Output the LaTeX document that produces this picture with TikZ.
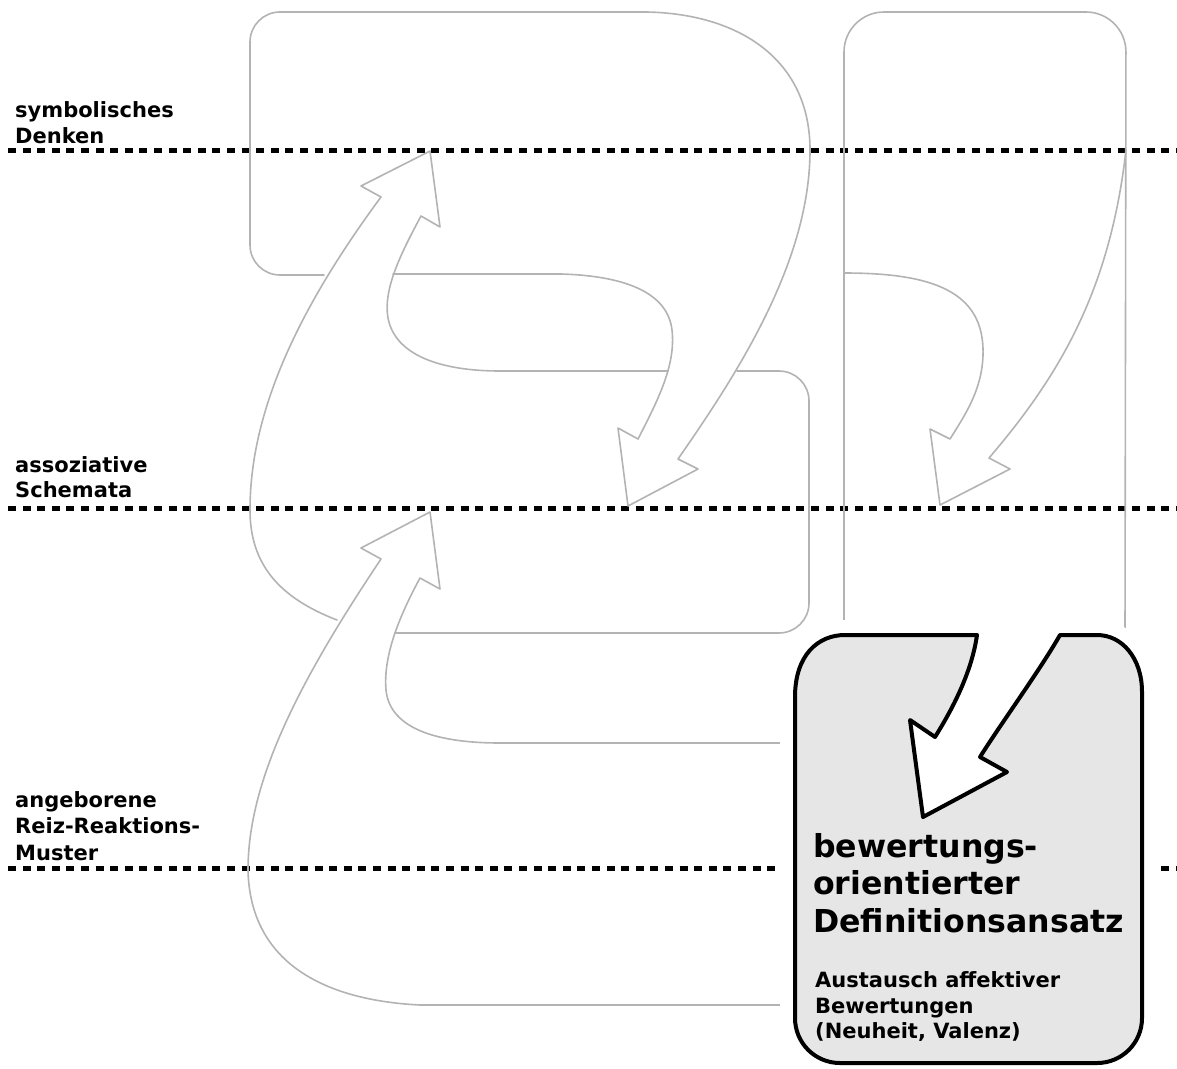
\documentclass[tikz,border=0pt]{standalone}
\usepackage{fontspec}
\setmainfont{DejaVu Sans}
\definecolor{linegray}{RGB}{179,179,179}
\definecolor{boxfill}{RGB}{230,230,230}
\begin{document}
\begin{tikzpicture}[x=1pt,y=-1pt,
  flow/.style={draw=linegray, line width=1.6pt, line join=round, line cap=round},
  level/.style={draw=black, line width=5pt, dash pattern=on 8pt off 6.6pt},
  lbl/.style={anchor=base west, inner sep=0pt, font=\bfseries\fontsize{21}{26}\selectfont},
  big/.style={anchor=base west, inner sep=0pt, font=\bfseries\fontsize{31.6}{37}\selectfont},
  small/.style={anchor=base west, inner sep=0pt, font=\bfseries\fontsize{21}{26}\selectfont}]
\useasboundingbox (0,0) rectangle (1177,1068);

% level separators
\draw[level] (8,150) -- (1177,150);
\draw[level] (8,508) -- (1177,508);
\draw[level] (8,868) -- (1177,868);

% level labels
\node[lbl] (l1a) at (15,117) {symbolisches};
\node[lbl] (l1b) at (15,143) {Denken};
\node[lbl] (l2a) at (15,472) {assoziative};
\node[lbl] (l2b) at (15,497) {Schemata};
\node[lbl] (l3a) at (15,807) {angeborene};
\node[lbl] (l3b) at (15,833) {Reiz-Reaktions-};
\node[lbl] (l3c) at (15,860) {Muster};

% upper block turning into a downward arrow
\draw[flow] (324,275) -- (280,275) .. controls (263.4,275) and (250,261.6) .. (250,245)
  -- (250,42) .. controls (250,25.4) and (263.4,12) .. (280,12) -- (647,12)
  .. controls (740,14) and (810,60) .. (810,150)
  .. controls (810,260) and (740,370) .. (678,459)
  -- (698,469) -- (628,506) -- (618,428) -- (638,439)
  .. controls (658,400) and (676,365) .. (672,330)
  .. controls (668,295) and (630,276) .. (561,274) -- (393,274);

% upward arrow from the middle level
\draw[flow] (337,620) .. controls (280,598) and (250,565) .. (250,510)
  .. controls (250,420) and (290,320) .. (381,197)
  -- (361,186) -- (430,151) -- (440,227) -- (421,216)
  .. controls (400,255) and (383,290) .. (388,318)
  .. controls (395,355) and (440,371) .. (500,371) -- (668,371);

% middle box
\draw[flow] (737,371) -- (779,371) .. controls (795.6,371) and (809,384.4) .. (809,401)
  -- (809,603) .. controls (809,619.6) and (795.6,633) .. (779,633) -- (395,633);

% upward arrow from the lower level
\draw[flow] (780,1005) -- (420,1005) .. controls (320,1000) and (250,960) .. (248,870)
  .. controls (248,780) and (300,680) .. (381,559)
  -- (361,548) -- (430,512) -- (440,589) -- (420,578)
  .. controls (400,615) and (383,655) .. (386,690)
  .. controls (390,730) and (440,743) .. (500,743) -- (780,743);

% right column
\draw[flow, rounded corners=40pt] (844,620) -- (844,12) -- (1126,12) -- (1125,631);
\draw[flow] (844,273) .. controls (930,273) and (985,290) .. (983,355)
  .. controls (982,390) and (965,415) .. (950,439)
  -- (930,429) -- (940,505) -- (1010,469) -- (989,458)
  .. controls (1060,375) and (1110,290) .. (1126,150);

% result box with the arrow cut into it
\draw[black, line width=4pt, fill=boxfill, line join=round,
      preaction={draw=white, fill=white, line width=30pt, line join=round}]
  (977,635) -- (845,635) .. controls (818,635) and (795,655) .. (795,697)
  -- (795,1018) .. controls (795,1043) and (815,1063) .. (840,1063)
  -- (1097,1063) .. controls (1122,1063) and (1142,1043) .. (1142,1018)
  -- (1142,692) .. controls (1142,658) and (1122,635) .. (1097,635)
  -- (1060,635) .. controls (1040,670) and (1000,725) .. (980,757)
  -- (1007,772) -- (923,817) -- (910,720) -- (935,737)
  .. controls (955,705) and (972,670) .. (977,635) -- cycle;

\node[big] (t1) at (813,857) {bewertungs-};
\node[big] (t2) at (813,894) {orientierter};
\node[big] (t3) at (813,932) {Definitionsansatz};
\node[small] (s1) at (815,987) {Austausch affektiver};
\node[small] (s2) at (815,1013) {Bewertungen};
\node[small] (s3) at (815,1038) {(Neuheit, Valenz)};
\end{tikzpicture}
\end{document}
